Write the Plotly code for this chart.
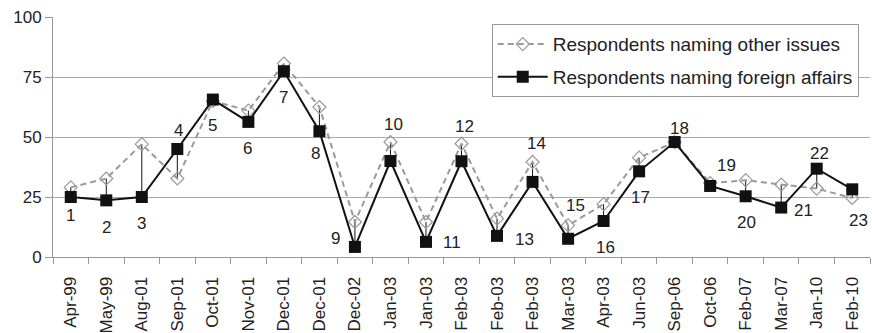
import plotly.graph_objects as go

dates = ["Apr-99", "May-99", "Aug-01", "Sep-01", "Oct-01", "Nov-01", "Dec-01", "Dec-01",
         "Dec-02", "Jan-03", "Jan-03", "Feb-03", "Feb-03", "Feb-03", "Mar-03", "Apr-03",
         "Jun-03", "Sep-06", "Oct-06", "Feb-07", "Mar-07", "Jan-10", "Feb-10"]
foreign = [25, 23.6, 25, 45, 65.6, 56.3, 77.4, 52.4, 4.2, 40, 6.3, 39.9, 8.8, 31.3,
           7.6, 15, 35.7, 47.9, 29.6, 25.3, 20.6, 36.8, 28.2]
other = [29, 32.7, 47, 32.7, 65, 61, 80.6, 62.5, 14.6, 47.9, 14.6, 47.2, 16, 39.6,
         13.2, 22, 41.4, 47.9, 30.8, 32, 30.2, 28.5, 24.6]
point_ids = [str(i + 1) for i in range(len(dates))]
# label offsets (px) relative to the foreign-affairs marker: (dx, dy) where dy>0 is up
label_off = [(0, -18), (0, -27), (0, -26), (1, 19), (0, -26), (-1, -27), (0, -26), (-4, -22),
             (-19, 8), (3, 37), (26, -1), (3, 35), (27, -4), (4, 38), (7, 33), (2, -26),
             (1, -26), (5, 14), (16, 20), (1, -26), (22, -3), (3, 15), (6, -31)]

xs = list(range(len(dates)))
FONT = "Liberation Sans, Arial, sans-serif"

# drop lines between the two series
dx, dy = [], []
for i in xs:
    dx += [i, i, None]
    dy += [foreign[i], other[i], None]

fig = go.Figure()
fig.add_trace(go.Scatter(x=dx, y=dy, mode="lines", line=dict(color="#111", width=1),
                         showlegend=False, hoverinfo="skip"))
fig.add_trace(go.Scatter(x=xs, y=other, mode="lines+markers", name="Respondents naming other issues",
                         line=dict(color="#9a9a9a", width=2, dash="6px,4px"),
                         marker=dict(symbol="diamond-open", size=10, color="#9a9a9a", line=dict(width=1.2)),
                         legendgroup="a"))
fig.add_trace(go.Scatter(x=xs, y=foreign, mode="lines+markers", name="Respondents naming foreign affairs",
                         line=dict(color="#111", width=2),
                         marker=dict(symbol="square", size=12, color="#111"),
                         legendgroup="b"))

for i in xs:
    ox, oy = label_off[i]
    fig.add_annotation(x=i, y=foreign[i], text=point_ids[i], showarrow=False,
                       xshift=ox, yshift=oy, font=dict(size=17, color="#222", family=FONT))

fig.update_layout(
    width=872, height=333,
    margin=dict(l=53, r=2, t=17, b=76, autoexpand=False),
    paper_bgcolor="white", plot_bgcolor="white",
    font=dict(family=FONT, size=17, color="#222"),
    showlegend=True,
    legend=dict(x=0.537, y=0.97, xanchor="left", yanchor="top", bgcolor="white",
                bordercolor="#999", borderwidth=1, font=dict(size=19, color="#222"),
                itemwidth=50, tracegroupgap=5, traceorder="grouped"),
    xaxis=dict(range=[-0.5, len(dates) - 0.5], tickmode="array", tickvals=xs, ticktext=dates,
               tickangle=-90, ticks="", showgrid=False, showline=True, linecolor="#999",
               zeroline=False, automargin=False, ticklabelstandoff=12,
               tickfont=dict(size=17, color="#222"),
               minor=dict(tickmode="array", tickvals=[i - 0.5 for i in range(len(dates) + 1)],
                          ticks="outside", ticklen=6, tickcolor="#999", showgrid=False)),
    yaxis=dict(range=[0, 100], tickvals=[0, 25, 50, 75, 100], showgrid=True, gridcolor="#aaa",
               gridwidth=1, showline=True, linecolor="#999", ticks="outside", ticklen=7,
               tickcolor="#999", zeroline=False, automargin=False,
               tickfont=dict(size=17, color="#222")),
)

# remove the browser's default 8px page margin so the figure fills the window
fig.write_html("out.html", config={"displayModeBar": False},
               post_script="document.body.style.margin='0';")
